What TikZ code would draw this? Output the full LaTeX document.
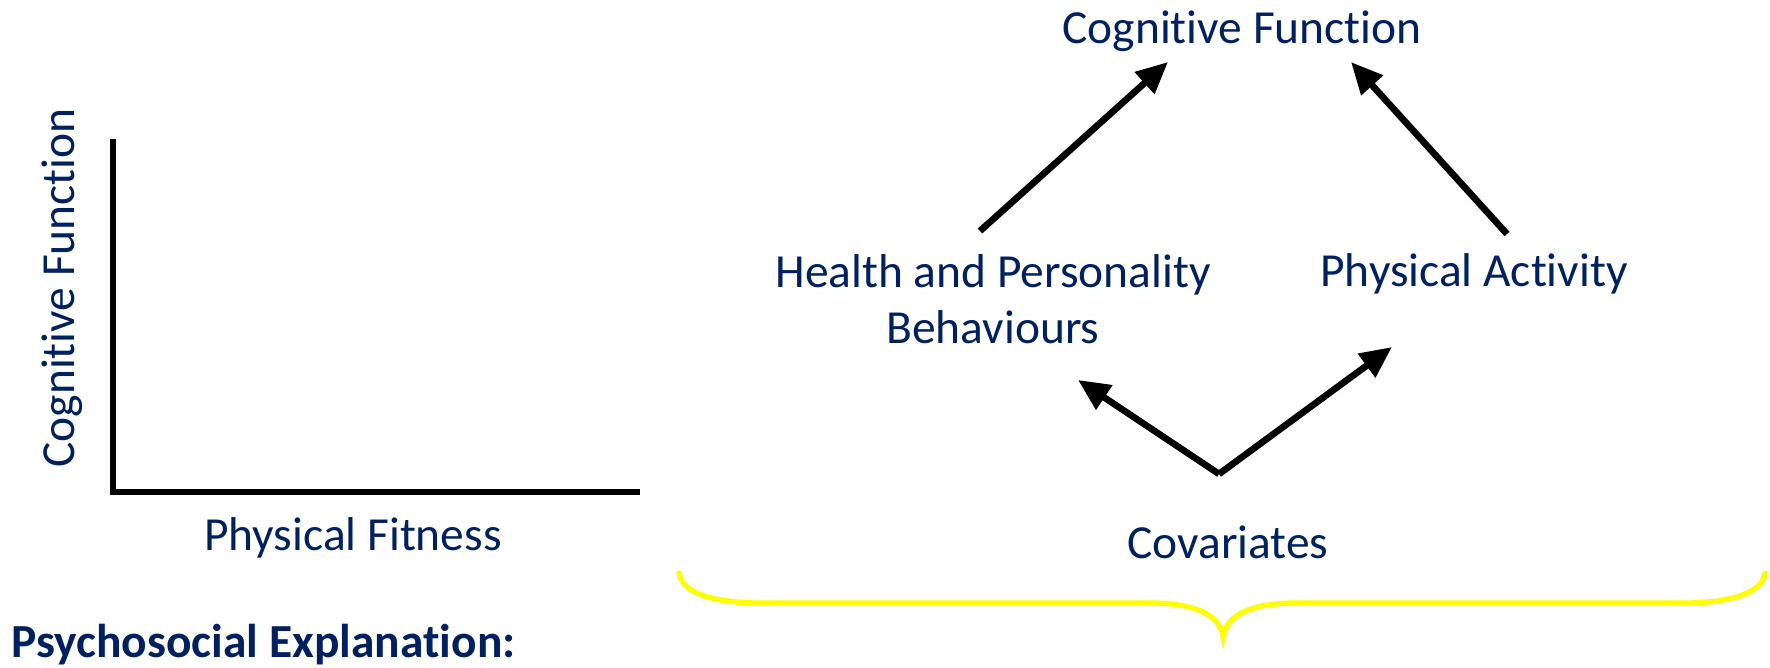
\documentclass[tikz,border=0pt]{standalone}
\usepackage{fontspec}
\setmainfont{Carlito}[Ligatures={NoCommon}]
\usetikzlibrary{arrows.meta,positioning,calc}
\definecolor{navy}{RGB}{0,32,96}
\definecolor{braceyellow}{RGB}{255,255,0}

\begin{document}
\begin{tikzpicture}[x=0.01cm,y=-0.01cm,
  lbl/.style={text=navy,font=\fontsize{13.5}{16}\selectfont,align=center,inner sep=0pt},
  arr/.style={line width=1.9pt,-{Triangle[length=9pt,width=8pt]}},
  axisline/.style={line width=1.9pt,line join=miter}]
\useasboundingbox (0,0) rectangle (1770,668);

% empty axes on the left
\coordinate (ytop) at (113,139);
\coordinate (orig) at (113,492);
\coordinate (xend) at (640,492);
\draw[axisline] (ytop) -- (orig) -- (xend);
\node[lbl,rotate=90] (ylab) at (62,288) {Cognitive Function};
\node[lbl] (xlab) at (353,538) {Physical Fitness};
\node[lbl,font=\fontsize{13.5}{16}\selectfont\bfseries,anchor=west] (psy) at (11,645) {Psychosocial Explanation:};

% path diagram
\node[lbl] (cogf) at (1242,31) {Cognitive Function};
\node[lbl] (hpb) at (993,299) {Health and Personality\\Behaviours};
\node[lbl] (pact) at (1474,274) {Physical Activity};
\node[lbl] (cov) at (1228,542) {Covariates};

\coordinate (hpb-out) at (980,231);
\coordinate (cogf-l) at (1168,62);
\coordinate (pact-out) at (1507,234);
\coordinate (cogf-r) at (1351,62);
\coordinate (cov-top) at (1219,474);
\coordinate (hpb-in) at (1078,380);
\coordinate (pact-in) at (1392,347);

\draw[arr] (hpb-out) -- (cogf-l);
\draw[arr] (pact-out) -- (cogf-r);
\draw[arr] (cov-top) -- (hpb-in);
\draw[arr] (cov-top) -- (pact-in);

% brace under the diagram
\draw[braceyellow,line width=1.5pt,line cap=round] (679,573) .. controls (681,595) and (720,603) .. (760,603)
  -- (1150,603) .. controls (1195,603) and (1220,615) .. (1223,637)
  .. controls (1226,615) and (1251,603) .. (1296,603)
  -- (1684,603) .. controls (1724,603) and (1762,595) .. (1765,573);
\end{tikzpicture}
\end{document}
